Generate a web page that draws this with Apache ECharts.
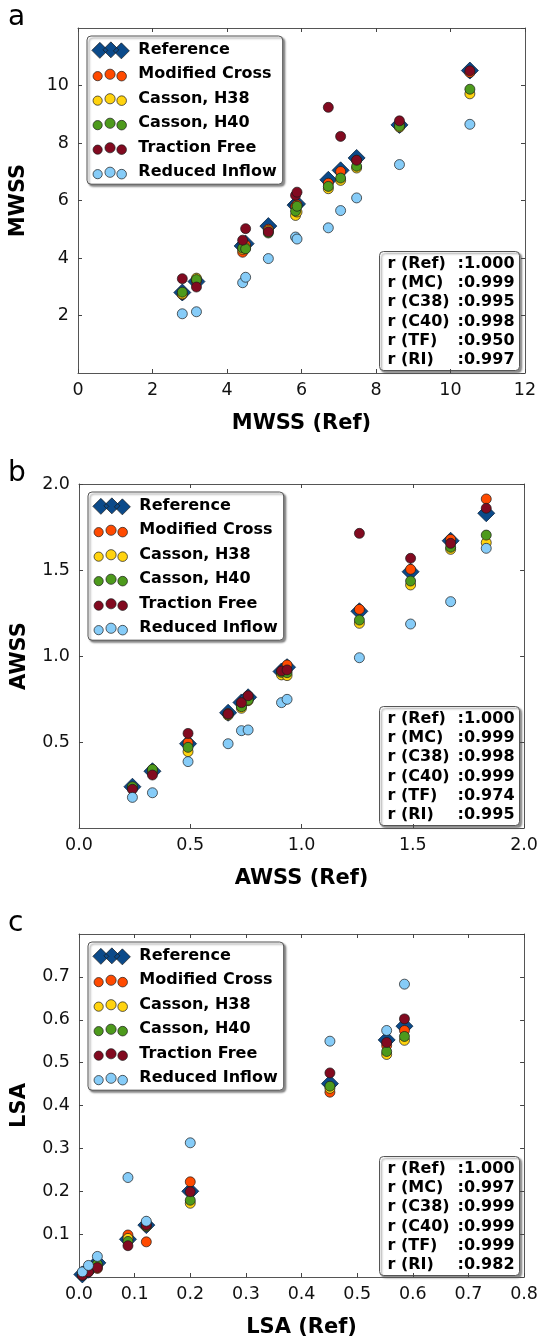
<!DOCTYPE html>
<html><head><meta charset="utf-8">
<script src="https://cdn.jsdelivr.net/npm/echarts@6/dist/echarts.min.js"></script>
<style>html,body{margin:0;padding:0;background:#fff}#c{width:541px;height:1339px}</style>
</head><body><div id="c"></div>
<script>
// ---- names, colours ----
const seriesNames = ['Reference', 'Modified Cross', 'Casson, H38', 'Casson, H40', 'Traction Free', 'Reduced Inflow'];
const seriesColors = ['#0b4a8a', '#ff4a00', '#ffd30f', '#4d9a1c', '#820a20', '#86ccf8'];
const panelLetters = ['a', 'b', 'c'];
const yNames = ['MWSS', 'AWSS', 'LSA'];
const xNames = ['MWSS (Ref)', 'AWSS (Ref)', 'LSA (Ref)'];

// ---- panel a: MWSS ----
const refA = [2.80, 3.18, 4.42, 4.50, 5.11, 5.84, 5.88, 6.72, 7.05, 7.48, 8.63, 10.52];
const mcA  = [2.73, 3.20, 4.20, 4.45, 5.00, 5.80, 5.85, 6.60, 7.01, 7.40, 8.65, 10.45];
const c38A = [2.75, 3.30, 4.30, 4.35, 4.95, 5.48, 5.60, 6.41, 6.70, 7.13, 8.55, 9.71];
const c40A = [2.81, 3.25, 4.35, 4.32, 4.87, 5.63, 5.80, 6.49, 6.78, 7.19, 8.58, 9.87];
const tfA  = [3.28, 2.99, 4.62, 5.02, 4.91, 6.18, 6.29, 9.24, 8.23, 7.40, 8.77, 10.51];
const riA  = [2.06, 2.13, 3.14, 3.33, 3.98, 4.73, 4.66, 5.05, 5.65, 6.09, 7.25, 8.65];
const rValsA = ['1.000', '0.999', '0.995', '0.998', '0.950', '0.997'];

// ---- panel b: AWSS ----
const refB = [0.24, 0.33, 0.49, 0.67, 0.73, 0.76, 0.91, 0.935, 1.26, 1.49, 1.67, 1.83];
const mcB  = [0.235, 0.33, 0.496, 0.665, 0.72, 0.76, 0.91, 0.948, 1.271, 1.504, 1.678, 1.913];
const c38B = [0.235, 0.335, 0.444, 0.655, 0.696, 0.74, 0.89, 0.886, 1.19, 1.413, 1.62, 1.659];
const c40B = [0.24, 0.341, 0.469, 0.66, 0.705, 0.744, 0.905, 0.903, 1.209, 1.436, 1.632, 1.703];
const tfB  = [0.225, 0.308, 0.55, 0.663, 0.729, 0.769, 0.913, 0.919, 1.713, 1.568, 1.655, 1.859];
const riB  = [0.178, 0.205, 0.386, 0.49, 0.566, 0.57, 0.729, 0.748, 0.99, 1.186, 1.316, 1.626];
const rValsB = ['1.000', '0.999', '0.998', '0.999', '0.974', '0.995'];

// ---- panel c: LSA ----
const refC = [0.006, 0.017, 0.033, 0.088, 0.121, 0.20, 0.451, 0.553, 0.585];
const mcC  = [0.004, 0.012, 0.020, 0.098, 0.082, 0.222, 0.431, 0.540, 0.575];
const c38C = [0.005, 0.014, 0.027, 0.090, 0.118, 0.172, 0.440, 0.519, 0.552];
const c40C = [0.005, 0.015, 0.030, 0.083, 0.119, 0.179, 0.445, 0.526, 0.561];
const tfC  = [0.004, 0.012, 0.022, 0.073, 0.121, 0.199, 0.476, 0.547, 0.602];
const riC  = [0.012, 0.027, 0.048, 0.232, 0.130, 0.313, 0.550, 0.575, 0.683];
const rValsC = ['1.000', '0.997', '0.999', '0.999', '0.999', '0.982'];

const rLabels = ['r (Ref)', 'r (MC)', 'r (C38)', 'r (C40)', 'r (TF)', 'r (RI)'];

// axis ranges (min, max, interval) per panel
const axisMin = [0, 0, 0];
const axisMax = [12, 2, 0.8];
const axisStep = [2, 0.5, 0.1];
const labelDecimals = [0, 1, 1];
const hideYMax = [true, false, true];

const panels = [
  { ref: refA, models: [mcA, c38A, c40A, tfA, riA], r: rValsA },
  { ref: refB, models: [mcB, c38B, c40B, tfB, riB], r: rValsB },
  { ref: refC, models: [mcC, c38C, c40C, tfC, riC], r: rValsC }
];

// ---- layout ----
const FONT = 'DejaVu Sans';
const grids = [
  { left: 78, top: 28, width: 447, height: 345 },
  { left: 79, top: 484, width: 446, height: 344 },
  { left: 79, top: 934, width: 446, height: 344 }
];

// legend icons: three diamonds / three circles in a 43x20 box
function circ(cx, cy, r) {
  return 'M' + (cx - r) + ' ' + cy + ' A' + r + ' ' + r + ' 0 1 0 ' + (cx + r) + ' ' + cy +
         ' A' + r + ' ' + r + ' 0 1 0 ' + (cx - r) + ' ' + cy + ' Z ';
}
function diam(cx, cy, w, h) {
  return 'M' + (cx - w) + ' ' + cy + ' L' + cx + ' ' + (cy - h) + ' L' + (cx + w) + ' ' + cy +
         ' L' + cx + ' ' + (cy + h) + ' Z ';
}
const bbox = 'M0 0 M43 20';
const iconDiamonds = 'path://' + bbox + ' ' + diam(9.5, 11, 8, 8) + diam(20.5, 10.5, 8, 8) + diam(31, 11.5, 8, 8);
const iconCircles = 'path://' + bbox + ' ' + circ(7.3, 12.3, 4.6) + circ(19.7, 10.4, 5.1) + circ(31.3, 12.3, 4.8);

const xAxes = [], yAxes = [], series = [], legends = [], graphics = [];

const tickStyle = { show: true, inside: true, length: 4, lineStyle: { color: '#444', width: 1 } };
const lineStyle = { show: true, onZero: false, lineStyle: { color: '#555', width: 1 } };

panels.forEach((p, i) => {
  const fmt = v => v.toFixed(labelDecimals[i]);
  const common = { type: 'value', gridIndex: i, min: axisMin[i], max: axisMax[i], interval: axisStep[i],
                   splitLine: { show: false }, axisLine: lineStyle, axisTick: tickStyle };
  xAxes.push(Object.assign({}, common, {
    position: 'bottom',
    name: xNames[i], nameLocation: 'middle', nameGap: 40,
    nameTextStyle: { fontFamily: FONT, fontSize: 21, fontWeight: 'bold', color: '#000' },
    axisLabel: { margin: 8, fontFamily: FONT, fontSize: 17.5, color: '#111', formatter: fmt,
                 showMinLabel: true, showMaxLabel: true }
  }));
  yAxes.push(Object.assign({}, common, {
    position: 'left',
    name: yNames[i], nameLocation: 'middle', nameGap: 49,
    nameTextStyle: { fontFamily: FONT, fontSize: 21, fontWeight: 'bold', color: '#000' },
    axisLabel: { margin: 9, fontFamily: FONT, fontSize: 17.5, color: '#111', formatter: fmt,
                 showMinLabel: false, showMaxLabel: !hideYMax[i] }
  }));

  // series
  series.push({
    type: 'scatter', name: seriesNames[0], xAxisIndex: i, yAxisIndex: i,
    symbol: 'diamond', symbolSize: 17,
    itemStyle: { color: seriesColors[0], borderColor: '#0a2440', borderWidth: 0.8, opacity: 1 },
    data: p.ref.map(v => [v, v]), z: 2
  });
  p.models.forEach((vals, m) => {
    series.push({
      type: 'scatter', name: seriesNames[m + 1], xAxisIndex: i, yAxisIndex: i,
      symbol: 'circle', symbolSize: 10,
      itemStyle: { color: seriesColors[m + 1], borderColor: '#1a1a1a', borderWidth: 0.7, opacity: 1 },
      data: p.ref.map((x, k) => [x, vals[k]]), z: 3 + m
    });
  });

  const g = grids[i];
  legends.push({
    orient: 'vertical', left: g.left + 9, top: g.top + 8,
    itemWidth: 43, itemHeight: 20, itemGap: 3.8,
    padding: [3, 6, 2, 3],
    backgroundColor: '#fff', borderColor: '#555', borderWidth: 1, borderRadius: 4,
    shadowColor: 'rgba(0,0,0,0.45)', shadowBlur: 2, shadowOffsetX: 2, shadowOffsetY: 2,
    selectedMode: false,
    itemStyle: { borderColor: '#1a1a1a', borderWidth: 0.7 },
    textStyle: { fontFamily: FONT, fontSize: 16, fontWeight: 'bold', color: '#000', padding: [0, 0, 0, 0] },
    data: seriesNames.map((n, k) => ({ name: n, icon: k === 0 ? iconDiamonds : iconCircles }))
  });

  // panel letter
  graphics.push({
    type: 'text', left: 8, top: g.top - 24, z: 10,
    style: { text: panelLetters[i], font: '28px "DejaVu Sans"', fill: '#000' }
  });

  // correlation box
  const bx = g.left + g.width - 146, by = g.top + g.height - 122;
  graphics.push({
    type: 'group', left: bx, top: by, z: 10,
    children: [
      { type: 'rect', shape: { x: 0, y: 0, width: 140, height: 119, r: 4 },
        style: { fill: '#fff', stroke: '#555', lineWidth: 1,
                 shadowColor: 'rgba(0,0,0,0.45)', shadowBlur: 2, shadowOffsetX: 2, shadowOffsetY: 2 } },
      { type: 'text', x: 8, y: 3,
        style: { text: rLabels.join('\n'), font: 'bold 16px "DejaVu Sans"', lineHeight: 19.1, fill: '#000' } },
      { type: 'text', x: 78, y: 3,
        style: { text: p.r.map(v => ':' + v).join('\n'), font: 'bold 16px "DejaVu Sans"', lineHeight: 19.1, fill: '#000' } }
    ]
  });
});

// top / right mirror axes (ticks only) for boxed frame
panels.forEach((p, i) => {
  const common = { type: 'value', gridIndex: i, min: axisMin[i], max: axisMax[i], interval: axisStep[i],
                   splitLine: { show: false }, axisLine: lineStyle, axisTick: tickStyle,
                   axisLabel: { show: false } };
  xAxes.push(Object.assign({}, common, { position: 'top' }));
  yAxes.push(Object.assign({}, common, { position: 'right' }));
});

const chart = echarts.init(document.getElementById('c'), null, { renderer: 'canvas' });
chart.setOption({
  animation: false,
  backgroundColor: '#fff',
  grid: grids.map(g => Object.assign({ containLabel: false }, g)),
  xAxis: xAxes,
  yAxis: yAxes,
  legend: legends,
  series: series,
  graphic: graphics
});
</script>
</body></html>
